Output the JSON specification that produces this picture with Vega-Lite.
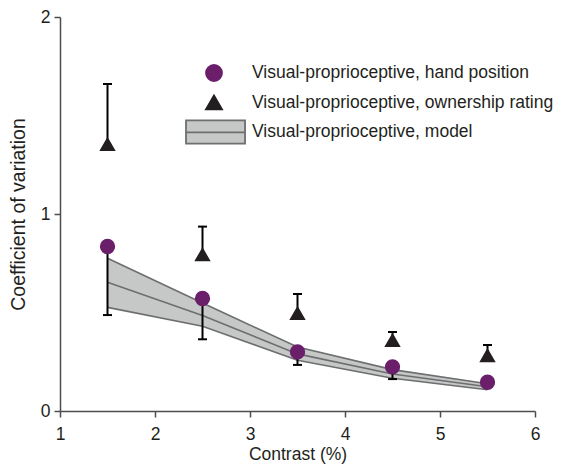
{
  "$schema": "https://vega.github.io/schema/vega-lite/v6.json",
  "width": 475,
  "height": 394,
  "autosize": "none",
  "padding": {"left": 60, "top": 17, "right": 26, "bottom": 55},
  "background": "white",
  "config": {
    "view": {"stroke": null},
    "font": "Liberation Sans",
    "axis": {
      "grid": false,
      "domainColor": "#4d4d4f",
      "domainWidth": 1.5,
      "tickColor": "#4d4d4f",
      "tickWidth": 1.5,
      "tickSize": 6,
      "labelFont": "Liberation Sans",
      "labelFontSize": 17.5,
      "labelColor": "#231f20",
      "labelOverlap": false,
      "titleFont": "Liberation Sans",
      "titleFontWeight": "normal",
      "titleColor": "#231f20"
    },
    "legend": {
      "labelFont": "Liberation Sans",
      "labelFontSize": 17.5,
      "labelColor": "#231f20",
      "labelLimit": 0,
      "symbolOpacity": 1
    }
  },
  "datasets": {
    "obs": [
      {"contrast": 1.5, "series": "Visual-proprioceptive, hand position", "cv": 0.835, "end": 0.487},
      {"contrast": 2.5, "series": "Visual-proprioceptive, hand position", "cv": 0.571, "end": 0.364},
      {"contrast": 3.5, "series": "Visual-proprioceptive, hand position", "cv": 0.300, "end": 0.234},
      {"contrast": 4.5, "series": "Visual-proprioceptive, hand position", "cv": 0.224, "end": 0.162},
      {"contrast": 5.5, "series": "Visual-proprioceptive, hand position", "cv": 0.146, "end": 0.128},
      {"contrast": 1.5, "series": "Visual-proprioceptive, ownership rating", "cv": 1.354, "end": 1.66},
      {"contrast": 2.5, "series": "Visual-proprioceptive, ownership rating", "cv": 0.794, "end": 0.936},
      {"contrast": 3.5, "series": "Visual-proprioceptive, ownership rating", "cv": 0.496, "end": 0.594},
      {"contrast": 4.5, "series": "Visual-proprioceptive, ownership rating", "cv": 0.359, "end": 0.401},
      {"contrast": 5.5, "series": "Visual-proprioceptive, ownership rating", "cv": 0.282, "end": 0.335}
    ],
    "model": [
      {"contrast": 1.5, "lo": 0.526, "mid": 0.653, "hi": 0.775},
      {"contrast": 2.5, "lo": 0.430, "mid": 0.485, "hi": 0.548},
      {"contrast": 3.5, "lo": 0.258, "mid": 0.290, "hi": 0.325},
      {"contrast": 4.5, "lo": 0.166, "mid": 0.188, "hi": 0.210},
      {"contrast": 5.5, "lo": 0.108, "mid": 0.123, "hi": 0.138}
    ]
  },
  "encoding": {
    "x": {
      "field": "contrast",
      "type": "quantitative",
      "scale": {"domain": [1, 6], "nice": false, "zero": false},
      "axis": {"values": [1, 2, 3, 4, 5, 6], "format": "d", "title": "Contrast (%)", "titleFontSize": 17.5, "labelPadding": 8, "titlePadding": 3, "labelFlush": false}
    }
  },
  "layer": [
    {
      "data": {"name": "model"},
      "mark": {"type": "area", "color": "#c6c8c7", "opacity": 1},
      "encoding": {
        "y": {
          "field": "lo",
          "type": "quantitative",
          "scale": {"domain": [0, 2], "nice": false},
          "axis": {"values": [0, 1, 2], "labelExpr": "format(datum.value, 'd')", "title": "Coefficient of variation", "titleFontSize": 19.5, "labelPadding": 4, "titlePadding": 12, "labelFlush": false}
        },
        "y2": {"field": "hi"}
      }
    },
    {
      "data": {"name": "model"},
      "transform": [{"fold": ["lo", "mid", "hi"], "as": ["band", "value"]}],
      "mark": {"type": "line", "color": "#6d6e70", "strokeWidth": 1.6},
      "encoding": {
        "y": {"field": "value", "type": "quantitative"},
        "detail": {"field": "band"}
      }
    },
    {
      "data": {"name": "obs"},
      "mark": {"type": "rule", "color": "#000000", "strokeWidth": 2},
      "encoding": {
        "y": {"field": "cv", "type": "quantitative"},
        "y2": {"field": "end"}
      }
    },
    {
      "data": {"name": "obs"},
      "mark": {"type": "tick", "orient": "horizontal", "color": "#000000", "size": 9, "thickness": 2, "opacity": 1},
      "encoding": {
        "y": {"field": "end", "type": "quantitative"}
      }
    },
    {
      "data": {"name": "obs"},
      "mark": {"type": "point", "filled": true, "opacity": 1, "strokeWidth": 1.5, "size": 190},
      "encoding": {
        "y": {"field": "cv", "type": "quantitative"},
        "shape": {
          "field": "series",
          "type": "nominal",
          "scale": {
            "domain": ["Visual-proprioceptive, hand position", "Visual-proprioceptive, ownership rating", "Visual-proprioceptive, model"],
            "range": ["circle", "triangle-up", "M-3.5,-1.45L3.88,-1.45L3.88,1.45L-3.5,1.45Z M-3.5,0.05L3.88,0.05"]
          },
          "legend": {"orient": "none", "legendX": 145, "legendY": 47, "title": null, "padding": 0, "symbolSize": 256, "labelOffset": 29, "rowPadding": -2.5, "gridAlign": "all", "symbolStrokeWidth": 1.8}
        },
        "fill": {
          "field": "series",
          "type": "nominal",
          "scale": {
            "domain": ["Visual-proprioceptive, hand position", "Visual-proprioceptive, ownership rating", "Visual-proprioceptive, model"],
            "range": ["#6b1f6b", "#231f20", "#c6c8c7"]
          },
          "legend": {"orient": "none", "legendX": 145, "legendY": 47, "title": null, "padding": 0, "symbolSize": 256, "labelOffset": 29, "rowPadding": -2.5, "gridAlign": "all", "symbolStrokeWidth": 1.8}
        },
        "stroke": {
          "field": "series",
          "type": "nominal",
          "scale": {
            "domain": ["Visual-proprioceptive, hand position", "Visual-proprioceptive, ownership rating", "Visual-proprioceptive, model"],
            "range": ["#6b1f6b", "#231f20", "#6d6e70"]
          },
          "legend": {"orient": "none", "legendX": 145, "legendY": 47, "title": null, "padding": 0, "symbolSize": 256, "labelOffset": 29, "rowPadding": -2.5, "gridAlign": "all", "symbolStrokeWidth": 1.8}
        }
      }
    }
  ]
}
